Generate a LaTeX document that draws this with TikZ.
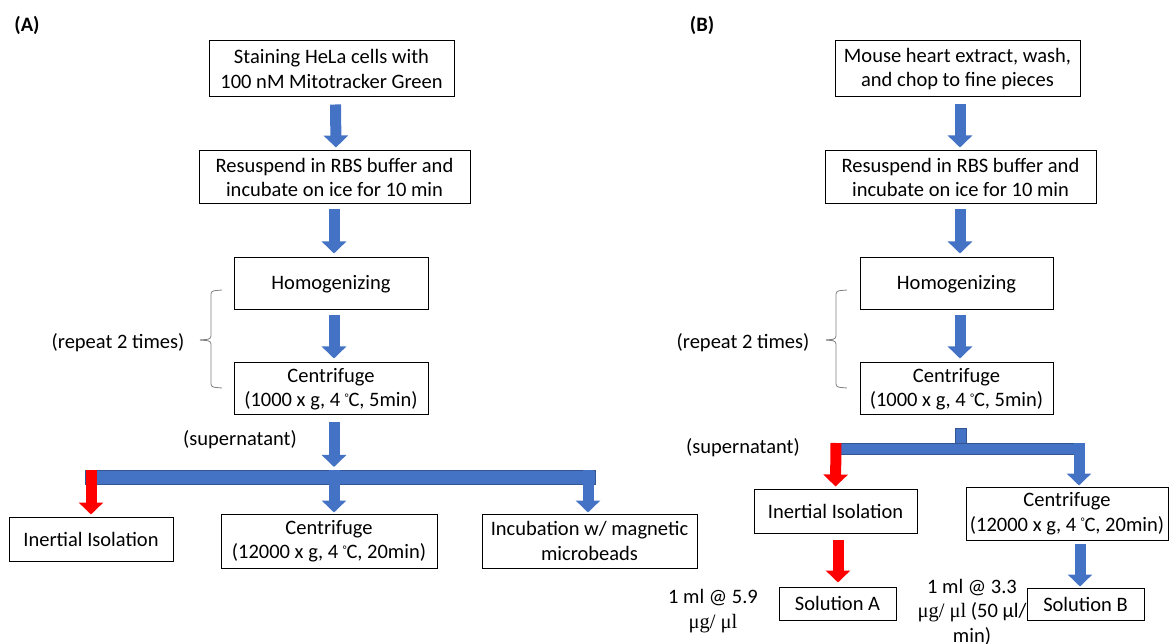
\documentclass[tikz,border=0pt]{standalone}
\usepackage{fontspec}
\setmainfont{Carlito}
\newfontfamily\serifgr{Liberation Serif}
\usetikzlibrary{arrows.meta}
\definecolor{oblue}{HTML}{4472C4}
\definecolor{ored}{HTML}{FF0000}
\definecolor{bracegray}{HTML}{808080}
\newcommand{\degC}{\raisebox{0.55ex}{\fontsize{11}{11}\selectfont °}C}
\tikzset{
  stepbox/.style={draw=black, line width=1pt, fill=white, align=center, inner sep=0pt,
    font=\fontsize{20.5}{24.5}\selectfont},
  lbl/.style={align=center, inner sep=0pt, font=\fontsize{20.5}{24.5}\selectfont},
  bluearrow/.style={draw=oblue, line width=11pt, -{Triangle[width=24pt,length=12pt]}},
  redarrow/.style={draw=ored, line width=11pt, -{Triangle[width=24pt,length=12pt]}},
  bluebar/.style={fill=oblue, draw=oblue!75!black, line width=0.6pt},
  bracestyle/.style={draw=bracegray, line width=0.8pt, rounded corners=3pt}
}
\begin{document}
\begin{tikzpicture}[x=1pt,y=-1pt]
\useasboundingbox (0,0) rectangle (1171,644);

% ---------------- Panel A ----------------
\node[lbl, font=\fontsize{20.5}{24.5}\selectfont\bfseries] (labA) at (27,25) {(A)};
\node[stepbox, minimum width=245pt, minimum height=56pt] (a1) at (331.5,69) {Staining HeLa cells with\\100 nM Mitotracker Green};
\node[stepbox, minimum width=271pt, minimum height=53pt] (a2) at (334.5,177.5) {Resuspend in RBS buffer and\\incubate on ice for 10 min};
\node[stepbox, minimum width=194pt, minimum height=52pt] (a3) at (331,284) {Homogenizing};
\node[stepbox, minimum width=194pt, minimum height=52pt] (a4) at (331,389) {Centrifuge\\(1000 x g, 4 \degC, 5min)};
\node[stepbox, minimum width=164pt, minimum height=44pt] (a5) at (91,539) {Inertial Isolation};
\node[stepbox, minimum width=216pt, minimum height=54pt] (a6) at (329,541) {Centrifuge\\(12000 x g, 4 \degC, 20min)};
\node[stepbox, minimum width=215pt, minimum height=54pt] (a7) at (589.5,541) {Incubation w/ magnetic\\microbeads};

\node[lbl] (repA) at (118,343) {(repeat 2 times)};
\node[lbl] (supA) at (240,440) {(supernatant)};

\coordinate (braceAtop) at (222,290);
\coordinate (braceAtip) at (200,340);
\coordinate (braceAbot) at (222,388);
\draw[bracestyle] (braceAtop) -- (211,291) -- (211,339) -- (braceAtip);
\draw[bracestyle] (braceAtip) -- (211,341) -- (211,387) -- (braceAbot);

% arrows A
\draw[bluearrow] ([xshift=4pt,yshift=-7pt]a1.south) -- ([xshift=1.5pt,yshift=3pt]a2.north);
\draw[bluearrow] ([xshift=-0.5pt,yshift=-5pt]a2.south) -- ([xshift=3pt,yshift=4pt]a3.north);
\draw[bluearrow] ([xshift=3pt,yshift=-5pt]a3.south) -- ([xshift=3pt,yshift=4pt]a4.north);
\coordinate (barAl) at (85,470);
\coordinate (barAr) at (595,484);
\draw[bluearrow] ([xshift=3pt,yshift=-7pt]a4.south) -- (334,467);
\path[bluebar] (barAl) rectangle (barAr);
\draw[redarrow] (91,470) -- ([yshift=2pt]a5.north);
\draw[bluearrow] (334,470) -- ([xshift=5pt,yshift=1pt]a6.north);
\draw[bluearrow] (588,470) -- ([xshift=-1.5pt,yshift=1pt]a7.north);

% ---------------- Panel B ----------------
\node[lbl, font=\fontsize{20.5}{24.5}\selectfont\bfseries] (labB) at (702,25) {(B)};
\node[stepbox, minimum width=245pt, minimum height=56pt] (b1) at (957.5,69) {Mouse heart extract, wash,\\and chop to fine pieces};
\node[stepbox, minimum width=271pt, minimum height=53pt] (b2) at (960.5,177.5) {Resuspend in RBS buffer and\\incubate on ice for 10 min};
\node[stepbox, minimum width=193pt, minimum height=52pt] (b3) at (956.5,284) {Homogenizing};
\node[stepbox, minimum width=193pt, minimum height=52pt] (b4) at (956.5,389) {Centrifuge\\(1000 x g, 4 \degC, 5min)};
\node[stepbox, minimum width=163pt, minimum height=44pt] (b5) at (835.5,511) {Inertial Isolation};
\node[stepbox, minimum width=202pt, minimum height=53pt] (b6) at (1067,513.5) {Centrifuge\\(12000 x g, 4 \degC, 20min)};
\node[stepbox, minimum width=117pt, minimum height=33pt] (b7) at (837.5,603.5) {Solution A};
\node[stepbox, minimum width=117pt, minimum height=32pt] (b8) at (1085.5,604) {Solution B};

\node[lbl] (repB) at (743,343) {(repeat 2 times)};
\node[lbl] (supB) at (743,448) {(supernatant)};
\node[lbl] (concA) at (713,611) {1 ml @ 5.9\\{\serifgr μg/ μl}};
\node[lbl] (concB) at (972,612) {1 ml @ 3.3\\{\serifgr μg/ μl} (50 μl/\\min)};

\coordinate (braceBtop) at (847,290);
\coordinate (braceBtip) at (826,340);
\coordinate (braceBbot) at (847,388);
\draw[bracestyle] (braceBtop) -- (836,291) -- (836,339) -- (braceBtip);
\draw[bracestyle] (braceBtip) -- (836,341) -- (836,387) -- (braceBbot);

% arrows B
\draw[bluearrow] ([xshift=2.5pt,yshift=-7pt]b1.south) -- ([xshift=-0.5pt,yshift=3pt]b2.north);
\draw[bluearrow] ([xshift=-0.5pt,yshift=-5pt]b2.south) -- ([xshift=3.5pt,yshift=4pt]b3.north);
\draw[bluearrow] ([xshift=3.5pt,yshift=-5pt]b3.south) -- ([xshift=3.5pt,yshift=4pt]b4.north);
\coordinate (stubBt) at (955,428);
\coordinate (stubBb) at (966,444);
\coordinate (barBl) at (836,443);
\coordinate (barBr) at (1084,454);
\path[bluebar] (stubBt) rectangle (stubBb);
\path[bluebar] (barBl) rectangle (barBr);
\draw[redarrow] (836,443) -- ([yshift=2pt]b5.north);
\draw[bluearrow] (1079,443) -- ([xshift=12pt,yshift=1pt]b6.north);
\draw[redarrow] ([xshift=2.5pt,yshift=-6pt]b5.south) -- ([xshift=0.5pt,yshift=4pt]b7.north);
\draw[bluearrow] ([xshift=13pt,yshift=-3pt]b6.south) -- ([xshift=-5.5pt,yshift=1pt]b8.north);
\end{tikzpicture}
\end{document}
